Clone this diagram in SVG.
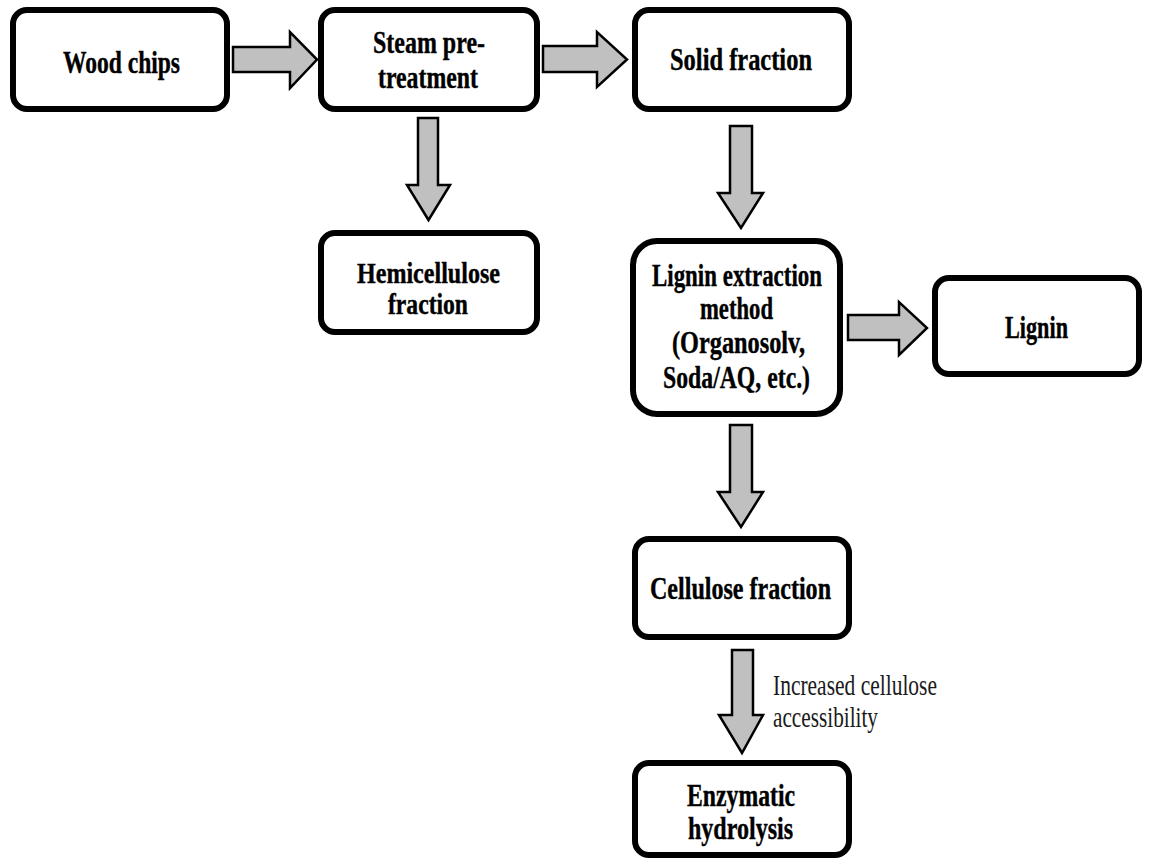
<svg xmlns="http://www.w3.org/2000/svg" width="1163" height="863" viewBox="0 0 1163 863">
<style>
.box{fill:#ffffff;stroke:#000000;stroke-width:6}
.arr{fill:#c0c0c0;stroke:#000000;stroke-width:2.5;stroke-linejoin:miter}
.t{font-family:"Liberation Serif","Times New Roman",serif;font-weight:bold;font-size:32px;fill:#000000;stroke:#000000;stroke-width:0.4;text-anchor:middle}
.tc{font-size:30px}
.lab{font-family:"Liberation Serif","Times New Roman",serif;font-size:30px;fill:#1a1a1a}
</style>
<rect width="1163" height="863" fill="#ffffff"/>
<g id="connectors">
<polygon class="arr" points="233,47 290,47 290,32 317,59.5 290,88 290,72 233,72"/>
<polygon class="arr" points="543,46 597,46 597,32 627,59.5 597,87 597,72 543,72"/>
<polygon class="arr" points="848,315 899,315 899,302 927,328 899,355 899,340 848,340"/>
<polygon class="arr" points="418,118 438,118 438,185 450,185 428.5,220 407,185 418,185"/>
<polygon class="arr" points="730,126 752,126 752,193 763,193 741,228 718,193 730,193"/>
<polygon class="arr" points="730,425 752,425 752,492 763,492 741,527 718,492 730,492"/>
<polygon class="arr" points="732,650 753,650 753,715 763,715 742,753 719,715 732,715"/>
<text class="lab" x="773" y="695" textLength="164" lengthAdjust="spacingAndGlyphs">Increased cellulose</text>
<text class="lab" x="773" y="727" textLength="105" lengthAdjust="spacingAndGlyphs">accessibility</text>
</g>
<g id="wood-chips">
<rect class="box" x="13" y="10" width="214" height="99" rx="14"/>
<text class="t" x="121.5" y="73" textLength="117" lengthAdjust="spacingAndGlyphs">Wood chips</text>
</g>
<g id="steam">
<rect class="box" x="321" y="10" width="216" height="99" rx="14"/>
<text class="t" x="429" y="53" textLength="112" lengthAdjust="spacingAndGlyphs">Steam pre-</text>
<text class="t" x="428" y="88" textLength="100" lengthAdjust="spacingAndGlyphs">treatment</text>
</g>
<g id="solid">
<rect class="box" x="635" y="10" width="214" height="99" rx="14"/>
<text class="t" x="741" y="70" textLength="142" lengthAdjust="spacingAndGlyphs">Solid fraction</text>
</g>
<g id="hemicellulose">
<rect class="box" x="321" y="233" width="216" height="99" rx="14"/>
<text class="t tc" x="428.5" y="283" textLength="143" lengthAdjust="spacingAndGlyphs">Hemicellulose</text>
<text class="t tc" x="428" y="314" textLength="80" lengthAdjust="spacingAndGlyphs">fraction</text>
</g>
<g id="lignin-extraction">
<rect class="box" x="633" y="241" width="207" height="173" rx="24"/>
<text class="t" x="737" y="286" textLength="170" lengthAdjust="spacingAndGlyphs">Lignin extraction</text>
<text class="t" x="736.5" y="319" textLength="73" lengthAdjust="spacingAndGlyphs">method</text>
<text class="t" x="738.5" y="353" textLength="133" lengthAdjust="spacingAndGlyphs">(Organosolv,</text>
<text class="t" x="736.5" y="388" textLength="147" lengthAdjust="spacingAndGlyphs">Soda/AQ, etc.)</text>
</g>
<g id="lignin">
<rect class="box" x="935" y="278" width="204" height="96" rx="14"/>
<text class="t" x="1036.5" y="338" textLength="63" lengthAdjust="spacingAndGlyphs">Lignin</text>
</g>
<g id="cellulose">
<rect class="box" x="635" y="539" width="214" height="98" rx="14"/>
<text class="t" x="740.5" y="599" textLength="181" lengthAdjust="spacingAndGlyphs">Cellulose fraction</text>
</g>
<g id="enzymatic">
<rect class="box" x="635" y="763" width="214" height="92" rx="14"/>
<text class="t" x="741" y="806" textLength="108" lengthAdjust="spacingAndGlyphs">Enzymatic</text>
<text class="t" x="740.5" y="839" textLength="105" lengthAdjust="spacingAndGlyphs">hydrolysis</text>
</g>
</svg>
